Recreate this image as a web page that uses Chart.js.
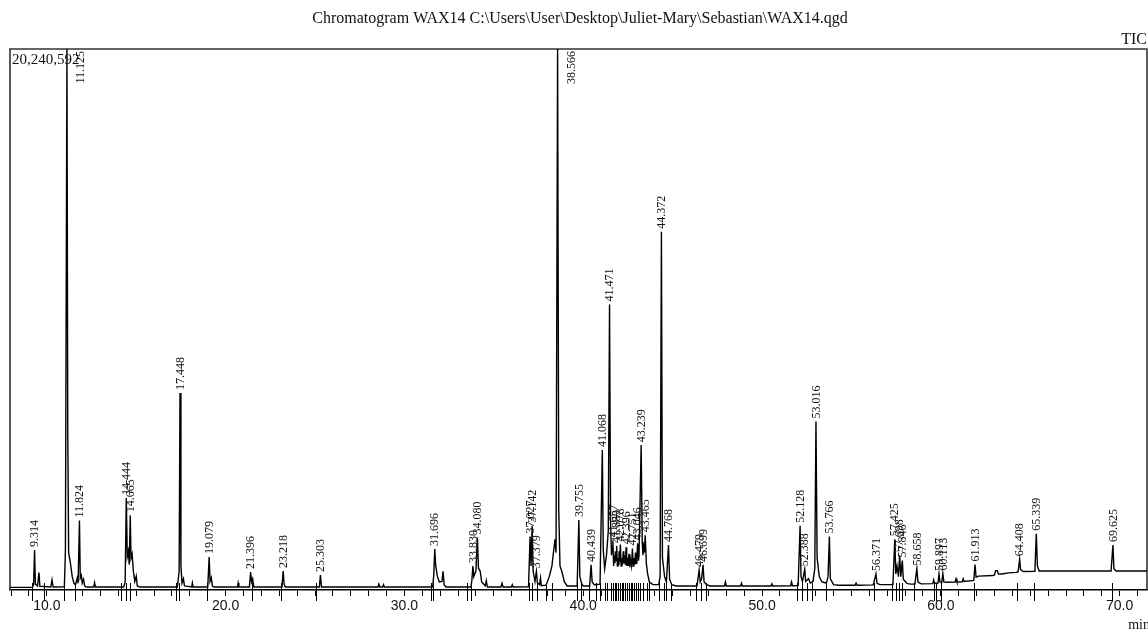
<!DOCTYPE html>
<html>
<head>
<meta charset="utf-8">
<script src="https://cdn.jsdelivr.net/npm/chart.js@4.4.1/dist/chart.umd.min.js"></script>
<style>
  html, body { margin: 0; padding: 0; background: #fff; }
  #c { display: block; }
</style>
</head>
<body>
<canvas id="c" width="1148" height="632"></canvas>
<script>
// ---------- DATA ----------
const chartTitle = 'Chromatogram WAX14 C:\\Users\\User\\Desktop\\Juliet-Mary\\Sebastian\\WAX14.qgd';
const seriesName = 'TIC';
const maxIntensityText = '20,240,592';
const xUnit = 'min';
// retention time range (min) and full scale (thousand counts)
const xRange = [7.94, 71.53];
const fullScaleK = 20240.592;
// x tick labels every 10 min
const xTickLabels = [10, 20, 30, 40, 50, 60, 70];

// TIC trace: [retention time (min), intensity (thousand counts)]
const tracePoints = [
  [7.94,100],
  [9.20,100],[9.26,200],[9.314,1500],[9.36,220],[9.48,150],[9.56,650],[9.61,140],
  [10.22,110],[10.29,380],[10.35,110],
  [10.98,120],[11.04,1500],[11.125,20240.592],[11.17,6000],[11.22,1400],[11.32,1000],[11.42,500],[11.52,250],[11.60,200],
  [11.70,450],[11.75,250],[11.824,2600],[11.87,450],[11.93,550],[11.98,260],[12.05,400],[12.12,150],[12.20,110],
  [12.62,110],[12.67,280],[12.72,110],
  [14.30,110],[14.38,300],[14.444,3440],[14.50,1250],[14.56,1450],[14.61,950],[14.665,2800],[14.71,1200],[14.77,1350],[14.84,700],[14.92,320],[15.00,520],[15.06,150],[15.20,110],
  [17.30,110],[17.40,700],[17.448,7370],[17.50,900],[17.56,260],[17.64,420],[17.70,150],
  [18.10,110],[18.14,260],[18.18,110],
  [19.00,110],[19.079,1230],[19.13,320],[19.20,460],[19.26,150],[19.35,110],
  [20.66,110],[20.70,260],[20.74,110],
  [21.33,110],[21.396,670],[21.45,300],[21.51,420],[21.58,110],
  [23.15,110],[23.218,710],[23.27,220],[23.33,110],
  [25.24,110],[25.303,560],[25.36,110],
  [28.52,110],[28.57,220],[28.62,110],[28.78,110],[28.83,200],[28.88,110],
  [31.58,110],[31.64,560],[31.696,1530],[31.75,900],[31.84,520],[31.95,300],[32.10,320],[32.16,700],[32.22,200],[32.32,110],
  [33.72,110],[33.77,350],[33.830,900],[33.88,500],[34.00,720],[34.080,1960],[34.14,820],[34.24,700],[34.32,300],[34.52,160],[34.58,350],[34.64,110],
  [35.40,110],[35.46,250],[35.52,110],[35.98,110],[36.03,200],[36.08,110],
  [36.94,120],[37.027,2000],[37.08,900],[37.142,2400],[37.20,700],[37.30,320],[37.379,700],[37.44,260],[37.56,200],[37.61,450],[37.66,160],
  [37.92,180],[38.10,500],[38.25,900],[38.35,1500],[38.42,1900],[38.48,1400],[38.566,20240.592],[38.63,3000],[38.70,900],[38.80,700],[38.95,300],[39.10,150],
  [39.66,150],[39.755,2620],[39.81,520],[39.90,260],[40.00,150],
  [40.36,150],[40.439,940],[40.50,300],[40.62,200],
  [40.94,220],[41.068,5240],[41.12,1500],[41.20,800],[41.30,1300],[41.40,2200],[41.471,10680],[41.53,2500],[41.58,1300],[41.62,1600],[41.657,1850],[41.70,900],[41.73,1300],[41.77,1000],[41.80,1450],[41.84,1100],[41.869,1650],[41.91,900],[41.94,1200],[41.97,950],[42.00,1450],[42.04,1050],[42.078,1700],[42.12,900],[42.16,1200],[42.20,950],[42.24,1450],[42.27,1000],[42.30,1300],[42.35,950],[42.396,1600],[42.43,900],[42.47,1200],[42.51,900],[42.56,1350],[42.60,850],[42.64,1150],[42.70,900],[42.751,1550],[42.79,900],[42.83,1200],[42.88,950],[42.92,1400],[42.96,1000],[43.00,1300],[43.046,1750],[43.09,1100],[43.12,1300],[43.239,5420],[43.30,1800],[43.34,1300],[43.38,1600],[43.42,1400],[43.465,2050],[43.53,1000],[43.60,600],[43.70,300],[43.90,200],
  [44.22,200],[44.30,500],[44.372,13400],[44.43,1200],[44.55,500],[44.65,300],[44.768,1680],[44.83,400],[44.95,200],[45.20,150],
  [46.36,150],[46.479,750],[46.54,300],[46.62,420],[46.699,940],[46.76,300],[46.90,200],[47.10,150],
  [47.90,150],[47.95,300],[48.00,150],[48.80,150],[48.85,250],[48.90,150],
  [50.50,150],[50.55,230],[50.60,150],
  [51.60,160],[51.65,300],[51.70,160],
  [52.02,170],[52.128,2400],[52.18,500],[52.26,320],[52.388,780],[52.44,320],[52.60,420],[52.70,260],[52.85,320],[52.95,800],[53.016,6300],[53.08,1200],[53.20,500],[53.35,300],[53.60,260],[53.69,500],[53.766,2000],[53.82,420],[54.00,200],[54.30,180],
  [55.20,180],[55.26,260],[55.32,180],
  [56.22,190],[56.371,600],[56.43,250],[56.60,200],
  [57.32,200],[57.425,1900],[57.48,600],[57.55,900],[57.63,500],[57.698,1300],[57.76,500],[57.846,1100],[57.90,400],[58.10,250],[58.30,220],
  [58.55,220],[58.658,800],[58.72,300],[58.90,230],
  [59.55,240],[59.60,380],[59.65,250],[59.84,260],[59.897,600],[59.95,300],[60.05,280],[60.113,620],[60.17,300],[60.30,290],
  [60.80,300],[60.85,420],[60.90,300],[61.20,310],[61.25,420],[61.30,320],
  [61.84,360],[61.913,950],[61.97,480],[62.10,520],
  [62.90,540],[63.00,560],[63.06,720],[63.16,720],[63.22,600],[63.40,600],[63.80,640],[64.20,660],[64.32,680],[64.408,1150],[64.46,760],[64.60,690],
  [65.26,700],[65.339,2100],[65.40,900],[65.50,710],
  [67.00,710],[69.52,710],[69.625,1680],[69.68,800],[69.80,710],[71.53,710]
];

// peak retention-time labels (apex times) and their printed text
const peakLabelTimes = [9.314, 11.125, 11.824, 14.444, 14.665, 17.448, 19.079, 21.396, 23.218, 25.303,
  31.696, 33.830, 34.080, 37.027, 37.142, 37.379, 38.566, 39.755, 40.439, 41.068, 41.471,
  41.657, 41.869, 42.078, 42.396, 42.751, 43.046, 43.239, 43.465, 44.372, 44.768, 46.479, 46.699,
  52.128, 52.388, 53.016, 53.766, 56.371, 57.425, 57.698, 57.846, 58.658, 59.897, 60.113,
  61.913, 64.408, 65.339, 69.625];
const peakLabelTexts = ['9.314', '11.125', '11.824', '14.444', '14.665', '17.448', '19.079', '21.396', '23.218', '25.303',
  '31.696', '33.830', '34.080', '37.027', '37.142', '37.379', '38.566', '39.755', '40.439', '41.068', '41.471',
  '41.657', '41.869', '42.078', '42.396', '42.751', '43.046', '43.239', '43.465', '44.372', '44.768', '46.479', '46.699',
  '52.128', '52.388', '53.016', '53.766', '56.371', '57.425', '57.698', '57.846', '58.658', '59.897', '60.113',
  '61.913', '64.408', '65.339', '69.625'];

// integration start/end marks (min)
const markTimes = [9.19, 9.86, 10.98, 11.59, 14.17, 14.45, 14.67, 17.24, 17.41, 18.98, 21.49, 23.11,
  25.07, 31.50, 31.62, 33.52, 33.74, 36.99, 37.16, 37.43, 37.94, 38.27, 39.67, 39.89, 40.34, 40.73,
  40.95, 41.20, 41.35, 41.55, 41.65, 41.75, 41.85, 41.95, 42.05, 42.15, 42.25, 42.35, 42.45, 42.55,
  42.65, 42.75, 42.85, 42.95, 43.05, 43.15, 43.35, 43.55, 43.65, 44.25, 44.50, 44.65, 44.90,
  46.30, 46.60, 46.85, 51.98, 52.26, 52.54, 52.81, 53.60, 56.28, 57.29, 57.51, 57.68, 57.85,
  58.52, 59.63, 59.75, 60.02, 61.87, 64.28, 65.23, 69.59];

// ---------- DRAWING ----------
const serif = "'Liberation Serif', 'Times New Roman', serif";
const sans = "'Liberation Sans', Arial, sans-serif";

const decorPlugin = {
  id: 'decor',
  beforeDatasetsDraw(chart) {
    const { ctx, chartArea: a } = chart;
    ctx.save();
    ctx.strokeStyle = '#333';
    ctx.lineWidth = 1.6;
    ctx.beginPath();
    ctx.moveTo(a.left, a.bottom);
    ctx.lineTo(a.left, a.top);
    ctx.lineTo(a.right, a.top);
    ctx.lineTo(a.right, a.bottom);
    ctx.stroke();
    // integration marks
    const xs = chart.scales.x;
    ctx.strokeStyle = '#000';
    ctx.lineWidth = 1;
    ctx.beginPath();
    markTimes.forEach(t => {
      const x = Math.round(xs.getPixelForValue(t)) + 0.5;
      ctx.moveTo(x, a.bottom - 7);
      ctx.lineTo(x, a.bottom + 11);
    });
    ctx.stroke();
    ctx.restore();
  },
  afterDraw(chart) {
    const { ctx, chartArea: a } = chart;
    const xs = chart.scales.x, ys = chart.scales.y;
    ctx.save();
    ctx.fillStyle = '#111';
    // title
    ctx.font = '16px ' + serif;
    ctx.textAlign = 'center';
    ctx.textBaseline = 'middle';
    ctx.fillText(chartTitle, 580, 19);
    // series name
    ctx.textAlign = 'right';
    ctx.fillText(seriesName, 1147, 40);
    // max intensity
    ctx.font = '15px ' + serif;
    ctx.textAlign = 'left';
    ctx.textBaseline = 'top';
    ctx.fillText(maxIntensityText, 12, 53);
    // unit
    ctx.font = '14px ' + serif;
    ctx.textAlign = 'right';
    ctx.textBaseline = 'middle';
    ctx.fillText(xUnit, 1150, 625);
    // peak labels
    ctx.font = '12px ' + serif;
    peakLabelTimes.forEach((t, i) => {
      const p = tracePoints.find(q => Math.abs(q[0] - t) < 1e-6);
      if (!p) return;
      const x = xs.getPixelForValue(t);
      ctx.save();
      if (p[1] >= fullScaleK) {
        ctx.translate(x + 14, a.top + 2);
        ctx.rotate(-Math.PI / 2);
        ctx.textAlign = 'right';
      } else {
        ctx.translate(x + 0.5, ys.getPixelForValue(p[1]) - 3);
        ctx.rotate(-Math.PI / 2);
        ctx.textAlign = 'left';
      }
      ctx.textBaseline = 'middle';
      ctx.fillText(peakLabelTexts[i], 0, 0);
      ctx.restore();
    });
    ctx.restore();
  }
};

new Chart(document.getElementById('c'), {
  type: 'line',
  data: {
    datasets: [{
      data: tracePoints.map(([x, y]) => ({ x, y })),
      borderColor: '#000',
      borderWidth: 1.4,
      pointRadius: 0,
      tension: 0,
      fill: false
    }]
  },
  options: {
    responsive: false,
    animation: false,
    events: [],
    layout: { padding: { left: 10, right: 1, top: 49, bottom: 0 } },
    plugins: { legend: { display: false }, tooltip: { enabled: false }, title: { display: false } },
    scales: {
      x: {
        type: 'linear',
        min: xRange[0],
        max: xRange[1],
        afterFit(s) { s.height = 42; },
        ticks: {
          stepSize: 1,
          autoSkip: false,
          includeBounds: false,
          maxRotation: 0,
          padding: 2,
          color: '#111',
          font: { family: sans, size: 14 },
          callback: v => xTickLabels.includes(v) ? v.toFixed(1) : ''
        },
        grid: { drawOnChartArea: false, drawTicks: true, tickLength: 6, color: '#000', lineWidth: 1 },
        border: { display: true, color: '#000', width: 1.6 }
      },
      y: { display: false, min: 0, max: fullScaleK }
    }
  },
  plugins: [decorPlugin]
});
</script>
</body>
</html>
